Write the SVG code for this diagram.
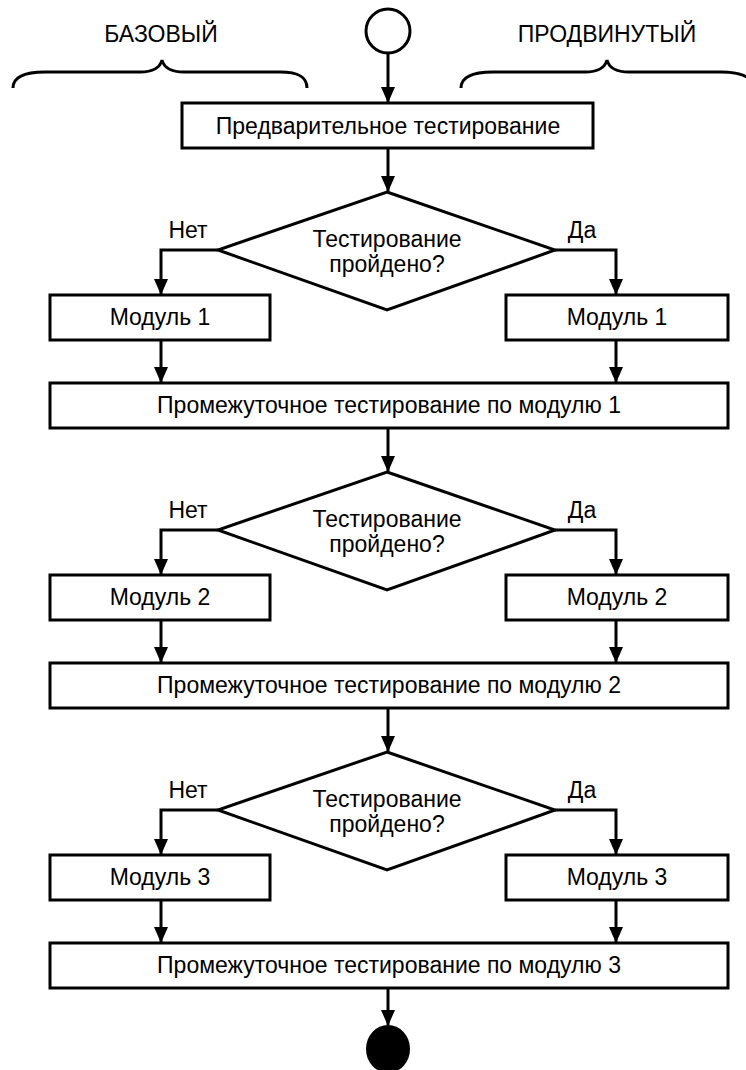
<svg xmlns="http://www.w3.org/2000/svg" width="746" height="1070" viewBox="0 0 746 1070">
<defs>
<style>
text{font-family:"Liberation Sans",Arial,sans-serif;font-size:23px;fill:#000;text-anchor:middle}
.box{fill:#fff;stroke:#000;stroke-width:3}
.ln{fill:none;stroke:#000;stroke-width:3}
.con{fill:none;stroke:#000;stroke-width:3;marker-end:url(#ah)}
</style>
<marker id="ah" viewBox="0 0 16 14" refX="15" refY="7" markerWidth="16" markerHeight="14" markerUnits="userSpaceOnUse" orient="auto">
<path d="M0,0 L16,7 L0,14 Z" fill="#000"/>
</marker>
</defs>
<rect width="746" height="1070" fill="#fff"/>

<g id="labels">
<text x="161" y="42">БАЗОВЫЙ</text>
<text x="607" y="42">ПРОДВИНУТЫЙ</text>
<path class="ln" d="M13,88 C13,76 25,72 45,72 L140,72 C152,72 160,68 162,60 C164,68 172,72 184,72 L280,72 C297,72 307,76 307,88"/>
<path class="ln" d="M461,88 C461,76 473,72 493,72 L585,72 C597,72 605,68 607,60 C609,68 617,72 629,72 L721,72 C738,72 753,76 753,88"/>
</g>

<g id="connectors">
<line class="con" x1="388" y1="53" x2="388" y2="102"/>
<line class="con" x1="388" y1="148" x2="388" y2="191"/>
<polyline class="con" points="218,250 161,250 161,294"/>
<polyline class="con" points="555,250 616,250 616,294"/>
<line class="con" x1="161" y1="340" x2="161" y2="382"/>
<line class="con" x1="616" y1="340" x2="616" y2="382"/>
<line class="con" x1="388" y1="428" x2="388" y2="471"/>
<polyline class="con" points="218,530 161,530 161,574"/>
<polyline class="con" points="555,530 616,530 616,574"/>
<line class="con" x1="161" y1="620" x2="161" y2="662"/>
<line class="con" x1="616" y1="620" x2="616" y2="662"/>
<line class="con" x1="388" y1="708" x2="388" y2="751"/>
<polyline class="con" points="218,810 161,810 161,854"/>
<polyline class="con" points="555,810 616,810 616,854"/>
<line class="con" x1="161" y1="900" x2="161" y2="942"/>
<line class="con" x1="616" y1="900" x2="616" y2="942"/>
<line class="con" x1="388" y1="988" x2="388" y2="1025"/>
<text x="188" y="238">Нет</text>
<text x="582" y="238">Да</text>
<text x="188" y="518">Нет</text>
<text x="582" y="518">Да</text>
<text x="188" y="798">Нет</text>
<text x="582" y="798">Да</text>
</g>

<g id="start"><circle cx="388" cy="31" r="22" class="box"/></g>

<g id="pre">
<rect class="box" x="182" y="103" width="411" height="45"/>
<text x="388" y="134">Предварительное тестирование</text>
</g>

<g id="dec1">
<polygon class="box" points="387,192 555,250 387,310 218,250"/>
<text x="387" y="247">Тестирование</text>
<text x="387" y="272">пройдено?</text>
</g>
<g id="m1l"><rect class="box" x="50" y="295" width="220" height="45"/><text x="160" y="325">Модуль 1</text></g>
<g id="m1r"><rect class="box" x="506" y="295" width="222" height="45"/><text x="617" y="325">Модуль 1</text></g>
<g id="int1"><rect class="box" x="50" y="383" width="678" height="45"/><text x="389" y="413">Промежуточное тестирование по модулю 1</text></g>

<g id="dec2">
<polygon class="box" points="387,472 555,530 387,590 218,530"/>
<text x="387" y="527">Тестирование</text>
<text x="387" y="552">пройдено?</text>
</g>
<g id="m2l"><rect class="box" x="50" y="575" width="220" height="45"/><text x="160" y="605">Модуль 2</text></g>
<g id="m2r"><rect class="box" x="506" y="575" width="222" height="45"/><text x="617" y="605">Модуль 2</text></g>
<g id="int2"><rect class="box" x="50" y="663" width="678" height="45"/><text x="389" y="693">Промежуточное тестирование по модулю 2</text></g>

<g id="dec3">
<polygon class="box" points="387,752 555,810 387,870 218,810"/>
<text x="387" y="807">Тестирование</text>
<text x="387" y="832">пройдено?</text>
</g>
<g id="m3l"><rect class="box" x="50" y="855" width="220" height="45"/><text x="160" y="885">Модуль 3</text></g>
<g id="m3r"><rect class="box" x="506" y="855" width="222" height="45"/><text x="617" y="885">Модуль 3</text></g>
<g id="int3"><rect class="box" x="50" y="943" width="678" height="45"/><text x="389" y="973">Промежуточное тестирование по модулю 3</text></g>

<g id="end"><ellipse cx="388" cy="1049" rx="22" ry="24" fill="#000"/></g>
</svg>
